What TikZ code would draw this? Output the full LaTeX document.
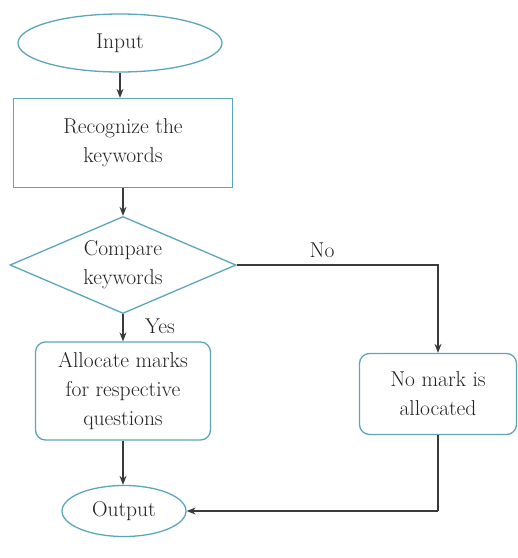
\documentclass[tikz,border=0pt]{standalone}
\usetikzlibrary{shapes.geometric,arrows.meta}
\definecolor{shapeline}{HTML}{5AA6BA}
\definecolor{arrowline}{HTML}{3A3A3A}
\definecolor{txt}{HTML}{222222}
\tikzset{
  base/.style={draw=shapeline, line width=1.3pt, text=txt, align=center,
    font=\rmfamily\fontsize{21.5}{29}\selectfont, inner sep=0pt},
  term/.style={base, ellipse},
  procbox/.style={base, rectangle},
  roundbox/.style={base, rectangle, rounded corners=10pt},
  decide/.style={base, diamond, aspect=2.33},
  conn/.style={draw=arrowline, line width=1.3pt, -{Stealth[length=9pt,width=7pt]}},
  plainconn/.style={draw=arrowline, line width=1.3pt},
  lab/.style={text=txt, font=\rmfamily\fontsize{21.5}{29}\selectfont, inner sep=0pt}
}
\begin{document}
\begin{tikzpicture}[x=1pt,y=-1pt]
\useasboundingbox (0,0) rectangle (518,558);
\node[term, minimum width=204pt, minimum height=58pt] (in) at (120,43) {Input};
\node[procbox, minimum width=219pt, minimum height=89pt] (rec) at (123,143) {Recognize the\\keywords};
\node[decide, minimum width=226pt, minimum height=97pt] (cmp) at (123,265) {Compare\\keywords};
\node[roundbox, minimum width=175pt, minimum height=98pt] (alloc) at (123,391) {Allocate marks\\for respective\\questions};
\node[roundbox, minimum width=157pt, minimum height=81pt] (nomark) at (438,394) {No mark is\\allocated};
\node[term, minimum width=124pt, minimum height=51pt] (out) at (124,511) {Output};
\coordinate (corner) at (nomark.south |- out.east);

\draw[conn] (in.south) -- (in.south |- rec.north);
\draw[conn] (rec.south) -- (rec.south |- cmp.north);
\draw[conn] (cmp.south) -- (cmp.south |- alloc.north);
\draw[conn] (cmp.east) -| (nomark.north);
\draw[conn] (alloc.south) -- (alloc.south |- out.north);
\draw[plainconn] (nomark.south) -- (corner);
\draw[conn] (corner) -- (out.east);

\node[lab] (no) at (322,250) {No};
\node[lab] (yes) at (160,326) {Yes};
\end{tikzpicture}
\end{document}
